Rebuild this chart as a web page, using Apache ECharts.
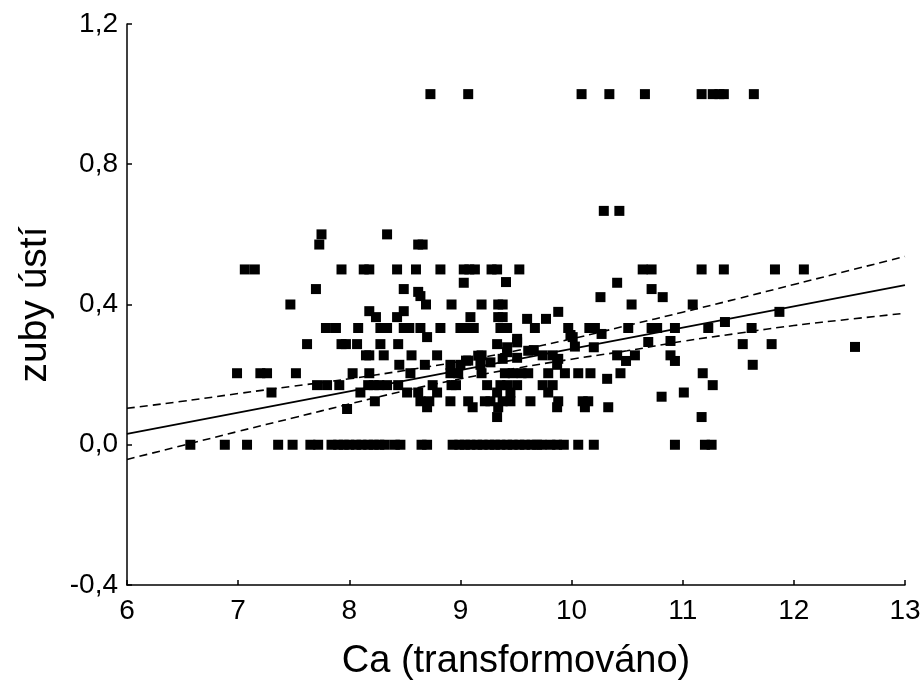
<!DOCTYPE html>
<html>
<head>
<meta charset="utf-8">
<script src="https://cdn.jsdelivr.net/npm/echarts@6/dist/echarts.min.js"></script>
<style>
html,body{margin:0;padding:0;background:#fff;}
#chart{width:924px;height:686px;}
</style>
</head>
<body>
<div id="chart"></div>
<script>
// Axis settings / tick labels
const xTickValues = [6, 7, 8, 9, 10, 11, 12, 13];
const yTickLabels = ['-0,4', '0,0', '0,4', '0,8', '1,2'];

// Scatter points grouped by row (Ca value lists for a given "zuby ústí" value)
const caAtZero = [6.57, 6.88, 7.08, 7.36, 7.49, 7.65, 7.72, 7.84, 7.90, 7.95, 8.00, 8.06, 8.11, 8.17, 8.22, 8.27, 8.32, 8.41, 8.46, 8.65, 8.70, 8.93, 8.99, 9.04, 9.09, 9.15, 9.20, 9.26, 9.31, 9.36, 9.42, 9.47, 9.53, 9.58, 9.64, 9.69, 9.73, 9.81, 9.87, 9.93, 10.06, 10.20, 10.93, 11.20, 11.26];
const caAtOne = [8.73, 9.07, 10.09, 10.34, 10.66, 11.17, 11.27, 11.33, 11.37, 11.64];
const caAtTwoThirds = [10.29, 10.43];
const caAtSixTenths = [7.75, 8.34];
const caAtFourSevenths = [7.73, 8.62, 8.66];
const caAtHalf = [7.06, 7.15, 7.93, 8.13, 8.18, 8.43, 8.60, 8.82, 9.03, 9.08, 9.13, 9.28, 9.33, 9.53, 10.64, 10.72, 11.17, 11.37, 11.83, 12.09];
const caAtFourTenths = [7.47, 8.69, 8.92, 9.19, 9.34, 9.38, 10.54, 11.09];
const caAtThird = [7.79, 7.88, 8.08, 8.28, 8.34, 8.49, 8.54, 8.64, 8.82, 9.00, 9.04, 9.12, 9.36, 9.42, 9.67, 9.97, 10.16, 10.21, 10.51, 10.72, 10.77, 10.93, 11.23, 11.62];
const caAtTwoSevenths = [7.62, 7.93, 7.97, 8.07, 8.28, 8.44, 9.33, 11.54, 11.80];
const caAtQuarter = [8.15, 8.18, 8.31, 8.56, 8.79, 9.19, 9.74, 9.83, 10.41, 10.57, 10.89];
const caAtAbout023 = [8.45, 8.68, 8.91, 9.00, 9.18, 9.87, 11.63];
const caAtFifth = [6.99, 7.20, 7.26, 7.52, 8.03, 8.18, 8.55, 8.91, 8.98, 9.19, 9.40, 9.47, 9.55, 9.61, 9.79, 9.94, 10.06, 10.17, 10.44, 11.18];
const caAtSixth = [7.71, 7.80, 7.91, 8.17, 8.22, 8.27, 8.34, 8.44, 8.75, 8.92, 8.96, 9.24, 9.36, 9.42, 9.51, 9.74, 9.83, 11.27];
const caAtSeventh = [7.30, 8.10, 8.52, 8.62, 8.79, 9.33, 9.45, 9.79, 11.01];
const caAtEighth = [8.23, 8.64, 8.72, 8.91, 9.07, 9.22, 9.27, 9.38, 9.45, 9.63, 9.88, 10.10, 10.15];
const caAtAbout011 = [8.70, 9.11, 9.34, 9.87, 10.12, 10.33];
const otherPoints = [
  [7.70, 0.444], [8.49, 0.444], [9.03, 0.462], [9.41, 0.464], [10.41, 0.462], [10.72, 0.444],
  [8.62, 0.436], [8.64, 0.424], [10.26, 0.421], [10.82, 0.421],
  [8.18, 0.381], [8.49, 0.381], [9.88, 0.379], [11.87, 0.379],
  [8.24, 0.364], [8.43, 0.364], [9.09, 0.364], [9.34, 0.364], [9.38, 0.364],
  [9.60, 0.359], [9.77, 0.359], [11.38, 0.350],
  [8.70, 0.307], [9.51, 0.302], [9.99, 0.313], [10.01, 0.307], [10.27, 0.316], [10.89, 0.296], [10.69, 0.293], [9.51, 0.292],
  [12.55, 0.279], [9.42, 0.278], [9.42, 0.264], [9.66, 0.270], [10.03, 0.280], [10.20, 0.278], [9.61, 0.268],
  [9.51, 0.248], [10.49, 0.239], [10.93, 0.239], [9.16, 0.254], [9.05, 0.240],
  [9.07, 0.240], [9.27, 0.235], [9.38, 0.245], [9.88, 0.245],
  [10.32, 0.188], [10.81, 0.137], [7.98, 0.102], [9.33, 0.079], [11.17, 0.079]
];

// Regression line and confidence band (read at x positions)
const fitX = [6, 13];
const fitY = [0.031, 0.455];
const bandX = [6, 6.5, 7, 7.5, 8, 8.5, 9, 9.5, 10, 10.5, 11, 11.5, 12, 12.5, 13];
const bandUpper = [0.104, 0.124, 0.146, 0.167, 0.188, 0.212, 0.238, 0.268, 0.302, 0.340, 0.378, 0.417, 0.457, 0.497, 0.537];
const bandLower = [-0.042, -0.002, 0.038, 0.077, 0.116, 0.154, 0.188, 0.218, 0.244, 0.268, 0.295, 0.318, 0.340, 0.358, 0.375];

const rowGroups = [
  [caAtZero, 0], [caAtOne, 1.0], [caAtTwoThirds, 0.667], [caAtSixTenths, 0.6], [caAtFourSevenths, 0.571],
  [caAtHalf, 0.5], [caAtFourTenths, 0.4], [caAtThird, 0.333], [caAtTwoSevenths, 0.287], [caAtQuarter, 0.255],
  [caAtAbout023, 0.228], [caAtFifth, 0.204], [caAtSixth, 0.17], [caAtSeventh, 0.149], [caAtEighth, 0.124],
  [caAtAbout011, 0.107]
];
const scatterData = [];
rowGroups.forEach(function (g) { g[0].forEach(function (x) { scatterData.push([x, g[1]]); }); });
otherPoints.forEach(function (p) { scatterData.push(p); });

const fitData = fitX.map(function (x, i) { return [x, fitY[i]]; });
const upperData = bandX.map(function (x, i) { return [x, bandUpper[i]]; });
const lowerData = bandX.map(function (x, i) { return [x, bandLower[i]]; });

const FONT = '"Liberation Sans", Arial, sans-serif';
const chart = echarts.init(document.getElementById('chart'), null, {renderer: 'canvas'});
chart.setOption({
  animation: false,
  backgroundColor: '#ffffff',
  grid: {left: 127, right: 19, top: 24, bottom: 100, containLabel: false},
  xAxis: {
    type: 'value', min: xTickValues[0], max: xTickValues[xTickValues.length - 1], interval: 1,
    name: 'Ca (transformováno)', nameLocation: 'middle', nameGap: 58,
    nameTextStyle: {fontFamily: FONT, fontSize: 38, color: '#000'},
    axisLine: {show: true, onZero: false, lineStyle: {color: '#000', width: 1.5}},
    axisTick: {show: true, inside: true, length: 5, lineStyle: {color: '#000', width: 1.5}},
    axisLabel: {fontFamily: FONT, fontSize: 28, color: '#000', margin: 12},
    splitLine: {show: false}
  },
  yAxis: {
    type: 'value', min: -0.4, max: 1.2, interval: 0.4,
    name: 'zuby ústí', nameLocation: 'middle', nameGap: 72, nameRotate: 90,
    nameTextStyle: {fontFamily: FONT, fontSize: 39, color: '#000'},
    axisLine: {show: true, onZero: false, lineStyle: {color: '#000', width: 1.5}},
    axisTick: {show: true, inside: true, length: 5, lineStyle: {color: '#000', width: 1.5}},
    axisLabel: {
      fontFamily: FONT, fontSize: 28, color: '#000', margin: 9,
      formatter: function (v) {
        const idx = Math.round((v + 0.4) / 0.4);
        return yTickLabels[idx] !== undefined ? yTickLabels[idx] : v.toFixed(1).replace('.', ',');
      }
    },
    splitLine: {show: false}
  },
  series: [
    {
      type: 'scatter', data: scatterData, symbol: 'rect', symbolSize: 10,
      itemStyle: {color: '#000', opacity: 1}, z: 3
    },
    {
      type: 'line', data: fitData, symbol: 'none',
      lineStyle: {color: '#000', width: 1.8, type: 'solid'}, z: 4
    },
    {
      type: 'line', data: upperData, symbol: 'none', smooth: true,
      lineStyle: {color: '#000', width: 1.6, type: [8, 5]}, z: 4
    },
    {
      type: 'line', data: lowerData, symbol: 'none', smooth: true,
      lineStyle: {color: '#000', width: 1.6, type: [8, 5]}, z: 4
    }
  ]
});
</script>
</body>
</html>
